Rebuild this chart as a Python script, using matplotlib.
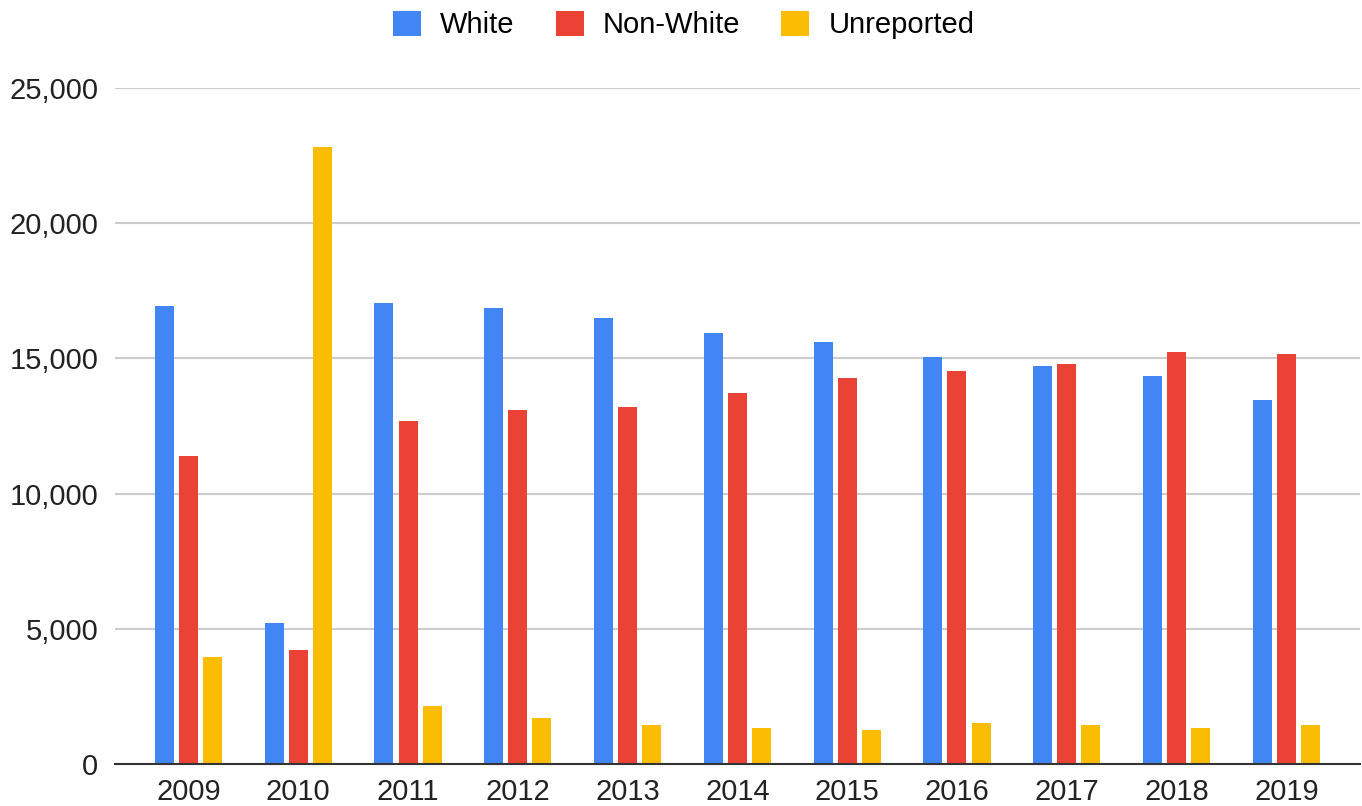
import matplotlib.pyplot as plt
import numpy as np
from matplotlib.ticker import FuncFormatter

plt.rcParams['font.family'] = ['Liberation Sans', 'DejaVu Sans']

# data
years = ['2009', '2010', '2011', '2012', '2013', '2014', '2015', '2016', '2017', '2018', '2019']
white = [16950, 5200, 17030, 16850, 16480, 15950, 15600, 15060, 14700, 14350, 13450]
non_white = [11400, 4200, 12680, 13100, 13200, 13730, 14270, 14530, 14800, 15250, 15170]
unreported = [3950, 22800, 2150, 1700, 1450, 1350, 1260, 1520, 1450, 1350, 1450]

series = [('White', white, '#4285F4'),
          ('Non-White', non_white, '#EA4335'),
          ('Unreported', unreported, '#FBBC04')]

fig = plt.figure(figsize=(13.62, 8.06), dpi=100)
ax = fig.add_axes([0.0844, 0.052, 0.9141, 0.839])

x = np.arange(len(years))
w = 0.173
step = 0.219
for i, (name, vals, col) in enumerate(series):
    ax.bar(x + (i - 1) * step, vals, width=w, color=col, label=name, zorder=3)

ax.set_ylim(0, 25000)
ax.set_xlim(-0.669, 10.67)
ax.set_yticks(range(0, 25001, 5000))
ax.yaxis.set_major_formatter(FuncFormatter(lambda v, p: f'{int(v):,}'))
ax.set_xticks(x)
ax.set_xticklabels(years)

ax.grid(axis='y', color='#cccccc', linewidth=1.5, zorder=0)
for s in ['top', 'right', 'left']:
    ax.spines[s].set_visible(False)
ax.spines['bottom'].set_color('#333333')
ax.spines['bottom'].set_linewidth(1.5)
ax.spines['bottom'].set_zorder(4)
ax.tick_params(axis='both', length=0, labelsize=21, colors='#222222')
ax.tick_params(axis='y', pad=12)
ax.tick_params(axis='x', pad=10)

fig.legend(loc='center', bbox_to_anchor=(0.502, 0.969), ncol=3, frameon=False,
           fontsize=21, handlelength=0.97, handleheight=0.97, columnspacing=1.4,
           handletextpad=0.65)

fig.savefig('out.png', dpi=100, facecolor='white')
